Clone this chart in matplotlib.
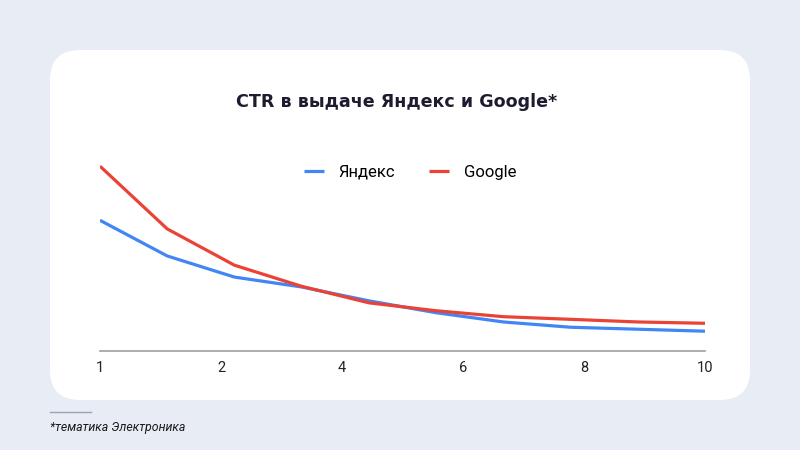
"""CTR by search position for Yandex and Google."""

import matplotlib.pyplot as plt
import numpy as np
from matplotlib.patches import FancyBboxPatch

positions = np.arange(10)
tick_labels = ["1", "2", "4", "6", "8", "10"]
yandex_ctr = [19.8, 14.4, 11.2, 9.7, 7.6, 5.8, 4.4, 3.6, 3.3, 3.0]
google_ctr = [28.0, 18.5, 13.0, 9.8, 7.3, 6.1, 5.2, 4.8, 4.4, 4.2]

BLUE = "#4285f4"
RED = "#ea4335"
BACKGROUND = "#e8edf5"

plt.rcParams["font.family"] = ["Roboto", "DejaVu Sans"]

fig = plt.figure(figsize=(8, 4.5), dpi=100, facecolor=BACKGROUND)

# background layer in pixel coordinates for the card and footnote
bg = fig.add_axes([0, 0, 1, 1], zorder=0)
bg.set_xlim(0, 800)
bg.set_ylim(450, 0)
bg.axis("off")
card = FancyBboxPatch(
    (50 + 30, 50 + 30), 700 - 60, 350 - 60,
    boxstyle="round,pad=30",
    facecolor="white",
    edgecolor="none",
)
bg.add_patch(card)
bg.plot([50, 91], [412, 412], color="#9aa3b2", linewidth=1.0)
bg.text(50, 428, "*тематика Электроника", fontsize=8.9, style="italic",
        color="#1a1a1a", va="center", ha="left")
bg.text(397, 102, "CTR в выдаче Яндекс и Google*", fontsize=12.6,
        fontweight="bold", family=["DejaVu Sans"], color="#1c1c2e",
        va="center", ha="center")

ax = fig.add_axes([100 / 800, 1 - 351 / 450, 605 / 800, 198 / 450], zorder=1)
ax.set_facecolor("none")
ax.plot(positions, yandex_ctr, color=BLUE, linewidth=2.3, label="Яндекс",
        solid_capstyle="butt")
ax.plot(positions, google_ctr, color=RED, linewidth=2.3, label="Google",
        solid_capstyle="butt")

ax.set_xlim(0, 9)
ax.set_ylim(0, 30)
ax.set_xticks(np.linspace(0, 9, len(tick_labels)))
ax.set_xticklabels(tick_labels)
ax.set_yticks([])
ax.tick_params(axis="x", length=0, pad=7, labelsize=10.5, labelcolor="#222222")
for side in ("top", "right", "left"):
    ax.spines[side].set_visible(False)
ax.spines["bottom"].set_color("#9e9e9e")
ax.spines["bottom"].set_linewidth(1.2)

fig.legend(
    loc="center",
    bbox_to_anchor=(410 / 800, 1 - 172 / 450),
    ncol=2,
    frameon=False,
    fontsize=12,
    handlelength=1.2,
    handletextpad=0.9,
    columnspacing=2.0,
)

fig.savefig("out.png", dpi=100, facecolor=BACKGROUND)
